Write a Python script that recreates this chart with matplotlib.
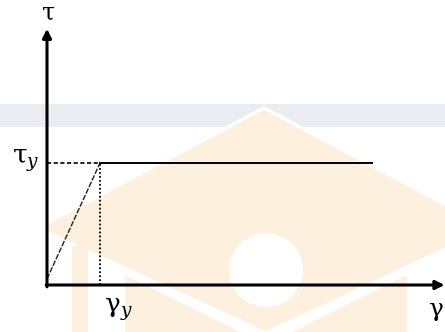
import matplotlib.pyplot as plt
from matplotlib.patches import Polygon, Circle, Rectangle

# elastic - perfectly plastic shear curve (gamma_y = 1, tau_y = 1)
gamma = [0.0, 1.0, 6.13]
tau = [0.05, 1.0, 1.0]
gamma_y = 1.0
tau_y = 1.0
gamma_max = 7.5
tau_max = 2.1

plt.rcParams['mathtext.fontset'] = 'dejavuserif'

W, H = 445, 332
fig = plt.figure(figsize=(W / 100, H / 100), dpi=100)

# watermark behind the drawing, in pixel coordinates
bg = fig.add_axes([0, 0, 1, 1])
bg.set_xlim(0, W)
bg.set_ylim(H, 0)
bg.axis('off')
orange = '#fdf0de'
bg.add_patch(Rectangle((0, 104), W, 23, color='#e9ecf1', lw=0))
bg.add_patch(Polygon([(42, 226), (264, 108), (486, 226), (486, 230), (266, 333), (46, 232)],
                     closed=True, fc=orange, ec='white', lw=2.5))
bg.add_patch(Circle((266, 270), 37, color='white', lw=0))
bg.add_patch(Polygon([(125, 275), (240, 332), (125, 332)], closed=True, fc=orange, lw=0))
bg.add_patch(Polygon([(407, 275), (292, 332), (407, 332)], closed=True, fc=orange, lw=0))
bg.add_patch(Polygon([(72, 247), (88, 242), (88, 332), (72, 332)], closed=True, fc=orange, lw=0))

# main drawing, origin at pixel (47, 285)
px_x, px_y = 53.0, 122.0
ax = fig.add_axes([0, 0, 1, 1])
ax.set_xlim(-47 / px_x, (W - 47) / px_x)
ax.set_ylim(-(H - 285) / px_y, 285 / px_y)
ax.axis('off')
ax.patch.set_alpha(0)

# axes with arrows
arrow = dict(arrowstyle='-|>', lw=2.2, color='black', mutation_scale=13, shrinkA=0, shrinkB=0)
ax.annotate('', xy=(0, tau_max), xytext=(0, -0.015), arrowprops=arrow)
ax.annotate('', xy=(gamma_max, 0), xytext=(-0.015, 0), arrowprops=arrow)

# curve
ax.plot(gamma[:2], tau[:2], color='#222222', lw=1.0, ls=(0, (4, 1.2)))
ax.plot(gamma[1:], tau[1:], color='black', lw=1.4)

# guides to yield point
ax.plot([0, gamma_y], [tau_y, tau_y], color='black', lw=1.2, ls=(0, (2.5, 1.5)))
ax.plot([gamma_y, gamma_y], [0, tau_y], color='black', lw=1.3, ls=(0, (1, 1.2)))

ax.text(0.02, tau_max + 0.13, r'$\mathrm{\tau}$', fontsize=17, ha='center', va='center')
ax.text(-0.15, tau_y + 0.02, r'$\mathrm{\tau}_y$', fontsize=19, ha='right', va='center')
ax.text(gamma_y + 0.34, -0.2, r'$\mathrm{\gamma}_y$', fontsize=19, ha='center', va='center')
ax.text(W / px_x - 47 / px_x - 0.03, -0.21, r'$\mathrm{\gamma}$', fontsize=18, ha='right', va='center')

fig.savefig('out.png', dpi=100)
